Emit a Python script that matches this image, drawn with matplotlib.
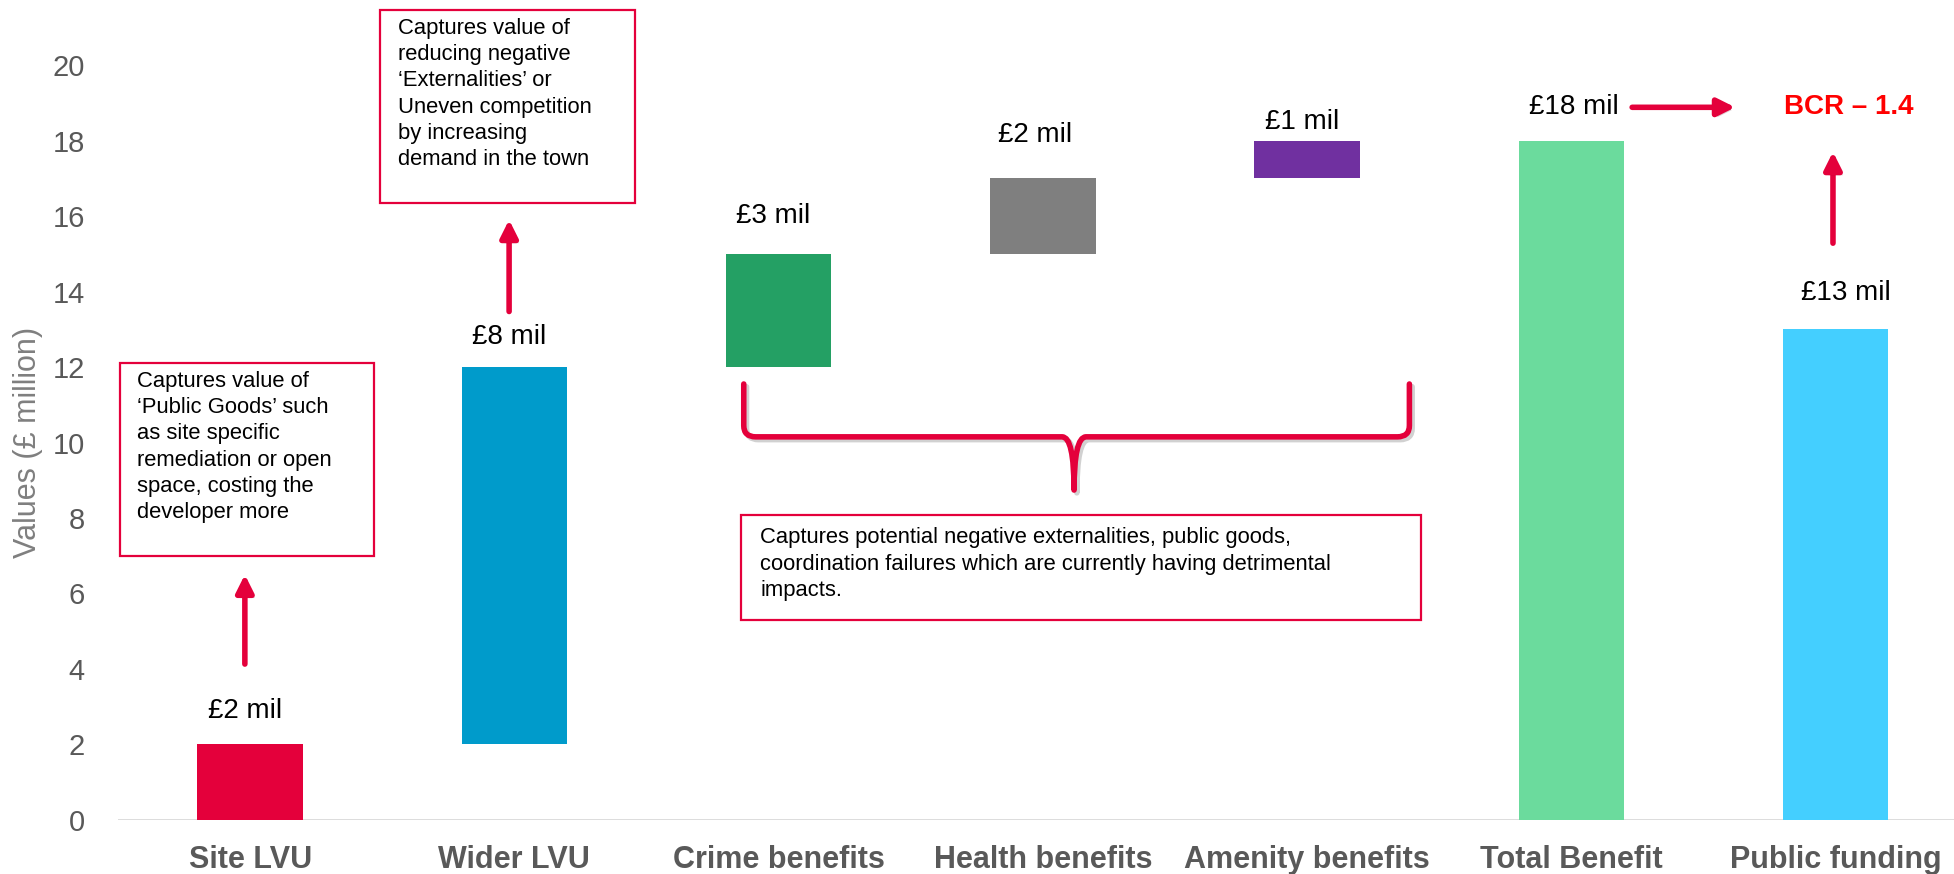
import numpy as np
import matplotlib.pyplot as plt
from matplotlib.path import Path
from matplotlib.patches import PathPatch, Rectangle
import matplotlib.patheffects as pe

plt.rcParams['font.family'] = ['Liberation Sans', 'DejaVu Sans']

categories = ["Site LVU", "Wider LVU", "Crime benefits", "Health benefits",
              "Amenity benefits", "Total Benefit", "Public funding"]
bases = [0, 2, 12, 15, 17, 0, 0]
values = [2, 10, 3, 2, 1, 18, 13]
value_labels = ["£2 mil", "£8 mil", "£3 mil", "£2 mil", "£1 mil", "£18 mil", "£13 mil"]
colors = ["#E4003B", "#009BCB", "#24A064", "#7F7F7F", "#7030A0", "#6BDB9D", "#44CFFF"]

RED = "#E4003B"
label_y = [2.9, 12.8, 16.0, 18.15, 18.5, 18.9, 13.95]
label_x = [-0.02, -0.02, -0.02, -0.03, -0.02, 0.01, 0.04]

fig = plt.figure(figsize=(19.54, 8.74), dpi=100)
ax = fig.add_axes([0.0604, 0.0618, 0.9396, 0.8638])

x = np.arange(len(categories))
ax.bar(x, values, bottom=bases, width=0.4, color=colors, zorder=2)

for i, t in enumerate(value_labels):
    ax.text(x[i] + label_x[i], label_y[i], t, ha='center', va='center',
            fontsize=20, color='black')

ax.set_xlim(-0.5, 6.448)
ax.set_ylim(0, 20)
ax.set_yticks(range(0, 21, 2))
ax.set_xticks(x)
ax.set_xticklabels(categories, fontsize=22, fontweight='bold', color='#595959')
ax.tick_params(axis='x', length=0, pad=18)
ax.tick_params(axis='y', length=0, pad=24, labelsize=21, labelcolor='#595959')
for s in ax.spines.values():
    s.set_visible(False)
ax.axhline(0, color='#D9D9D9', lw=2, zorder=1)
ax.set_ylabel("Values (£ million)", fontsize=22, color='#7F7F7F')
ax.yaxis.set_label_coords(-0.041, 0.5)

shadow = [pe.SimplePatchShadow(offset=(2, -2), alpha=0.18), pe.Normal()]
line_shadow = [pe.SimpleLineShadow(offset=(2, -2), alpha=0.18), pe.Normal()]

def arrow(x0, y0, x1, y1):
    ax.annotate("", xy=(x1, y1), xytext=(x0, y0),
                arrowprops=dict(arrowstyle='-|>', lw=4, color=RED,
                                mutation_scale=26, shrinkA=0, shrinkB=0,
                                path_effects=shadow),
                annotation_clip=False)

arrow(-0.02, 4.13, -0.02, 6.5)
arrow(0.98, 13.47, 0.98, 15.9)
arrow(5.23, 18.88, 5.62, 18.88)
arrow(5.99, 15.28, 5.99, 17.7)

ax.text(6.05, 18.88, "BCR – 1.4", ha='center', va='center', fontsize=20,
        fontweight='bold', color='#FF0000')

# text boxes
boxes = [
    ((-0.494, 6.99), 0.961, 5.12, (-0.43, 11.9),
     "Captures value of\n‘Public Goods’ such\nas site specific\nremediation or open\nspace, costing the\ndeveloper more"),
    ((0.49, 16.34), 0.968, 5.11, (0.561, 21.25),
     "Captures value of\nreducing negative\n‘Externalities’ or\nUneven competition\nby increasing\ndemand in the town"),
    ((1.858, 5.31), 2.572, 2.78, (1.93, 7.75),
     "Captures potential negative externalities, public goods,\ncoordination failures which are currently having detrimental\nimpacts."),
]
for (xy, w, h, txy, txt) in boxes:
    ax.add_patch(Rectangle(xy, w, h, fill=False, edgecolor=RED, lw=1.6,
                           clip_on=False, zorder=3))
    ax.text(txy[0], txy[1], txt, ha='left', va='top', fontsize=15.8,
            linespacing=1.33, color='black', clip_on=False)

# curly brace
x0, x1, xc = 1.868, 4.387, 3.118
yt, yh, ytip = 11.55, 10.15, 8.74
r = 0.045
verts = [(x0, yt), (x0, yh + 0.3), (x0, yh), (x0 + r, yh),
         (xc - r, yh), (xc, yh), (xc, ytip),
         (xc, yh), (xc + r, yh),
         (x1 - r, yh), (x1, yh), (x1, yh + 0.3), (x1, yt)]
codes = [Path.MOVETO, Path.LINETO, Path.CURVE3, Path.CURVE3,
         Path.LINETO, Path.CURVE3, Path.CURVE3,
         Path.CURVE3, Path.CURVE3,
         Path.LINETO, Path.CURVE3, Path.CURVE3, Path.LINETO]
ax.add_patch(PathPatch(Path(verts, codes), fill=False, edgecolor=RED, lw=4,
                       capstyle='round', joinstyle='round', zorder=3,
                       path_effects=line_shadow))

fig.savefig("out.png", dpi=100)
